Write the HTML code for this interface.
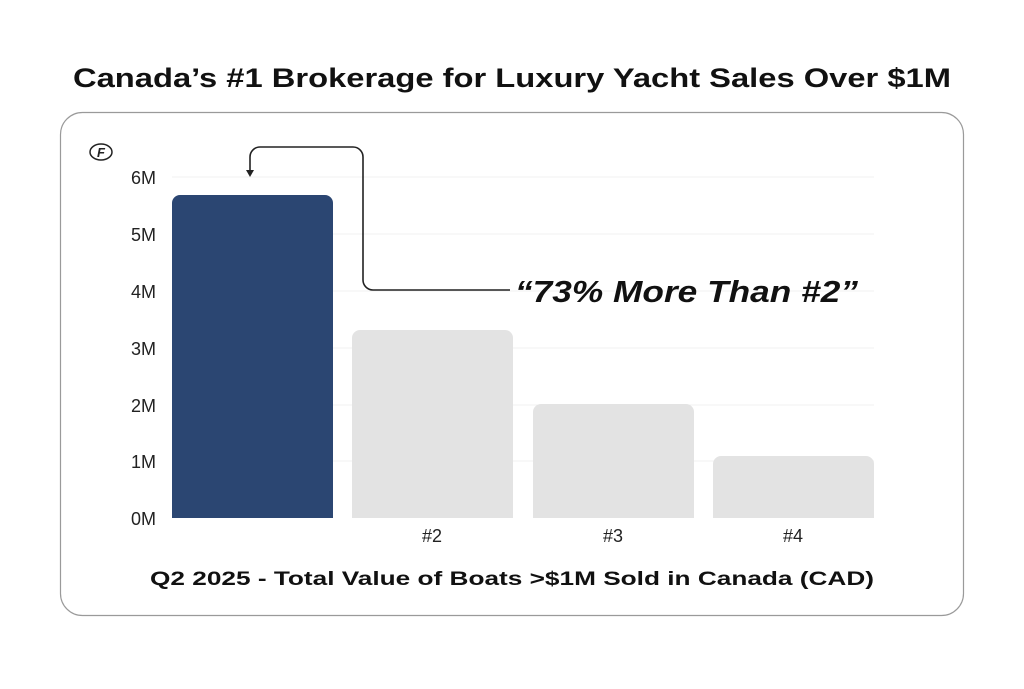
<!DOCTYPE html>
<html><head><meta charset="utf-8"><style>
body{margin:0;background:#fff;}
</style></head><body>
<svg width="1024" height="684" xmlns="http://www.w3.org/2000/svg" font-family="Liberation Sans, sans-serif">
<rect width="1024" height="684" fill="#fff"/>
<text x="73" y="87" font-size="27" font-weight="bold" fill="#111" textLength="878" lengthAdjust="spacingAndGlyphs">Canada’s #1 Brokerage for Luxury Yacht Sales Over $1M</text>
<rect x="60.5" y="112.5" width="903" height="503" rx="22" fill="#fff" stroke="#9a9a9a" stroke-width="1.2"/>
<g stroke="#f0f0f0" stroke-width="1">
<line x1="172" x2="874" y1="177" y2="177"/><line x1="172" x2="874" y1="234" y2="234"/>
<line x1="172" x2="874" y1="291" y2="291"/><line x1="172" x2="874" y1="348" y2="348"/>
<line x1="172" x2="874" y1="405" y2="405"/><line x1="172" x2="874" y1="461" y2="461"/>
</g>
<g font-size="18" fill="#222" text-anchor="end">
<text x="156" y="184">6M</text><text x="156" y="241">5M</text><text x="156" y="298">4M</text>
<text x="156" y="355">3M</text><text x="156" y="412">2M</text><text x="156" y="468">1M</text><text x="156" y="525">0M</text>
</g>
<path d="M172 518V203a8 8 0 0 1 8-8H325a8 8 0 0 1 8 8V518Z" fill="#2b4672"/>
<path d="M352 518V338a8 8 0 0 1 8-8H505a8 8 0 0 1 8 8V518Z" fill="#e3e3e3"/>
<path d="M533 518V412a8 8 0 0 1 8-8H686a8 8 0 0 1 8 8V518Z" fill="#e3e3e3"/>
<path d="M713 518V464a8 8 0 0 1 8-8H866a8 8 0 0 1 8 8V518Z" fill="#e3e3e3"/>
<g font-size="18" fill="#222" text-anchor="middle">
<text x="432" y="542">#2</text><text x="613" y="542">#3</text><text x="793" y="542">#4</text>
</g>
<path d="M250 172V157a10 10 0 0 1 10-10H353a10 10 0 0 1 10 10V280a10 10 0 0 0 10 10H510" fill="none" stroke="#222" stroke-width="1.6"/>
<path d="M246 170L250 177L254 170Z" fill="#222"/>
<text x="515" y="302" font-size="31" font-weight="bold" font-style="italic" fill="#111" textLength="343" lengthAdjust="spacingAndGlyphs">“73% More Than #2”</text>
<ellipse cx="101" cy="152" rx="11" ry="8" fill="none" stroke="#222" stroke-width="1.5"/>
<text x="101" y="157" font-size="13" font-weight="bold" font-style="italic" text-anchor="middle" fill="#222">F</text>
<text x="150" y="585" font-size="19" font-weight="bold" fill="#111" textLength="724" lengthAdjust="spacingAndGlyphs">Q2 2025 - Total Value of Boats &gt;$1M Sold in Canada (CAD)</text>
</svg>
</body></html>
